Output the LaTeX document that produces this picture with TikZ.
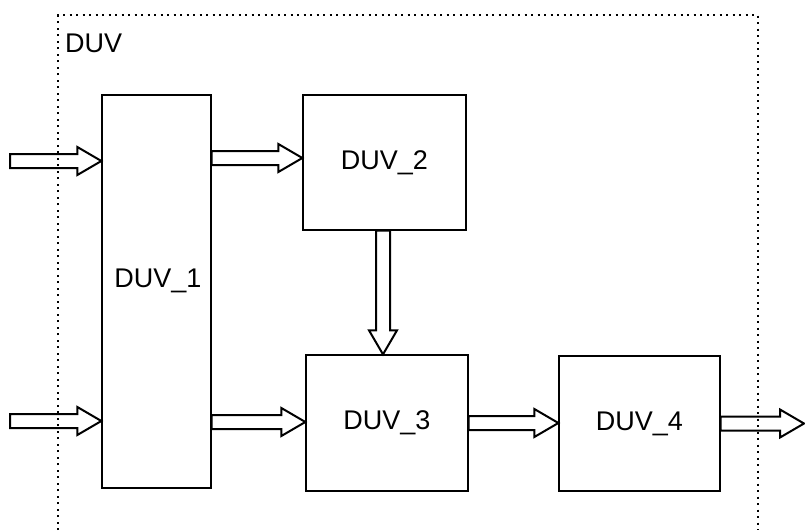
\documentclass[tikz,border=0pt]{standalone}
\usepackage{fontspec}
\setmainfont{Liberation Sans}
\usetikzlibrary{calc}
\newcommand{\duvfont}{\fontsize{27}{32}\selectfont}
\tikzset{
  block/.style={draw, line width=1.3pt, inner sep=0pt, font=\duvfont},
  label text/.style={inner sep=0pt, font=\duvfont},
  border/.style={line width=2pt, dash pattern=on 2pt off 4.5pt},
  % outlined block arrow from start to target
  bigarrow/.style={line width=2pt, to path={
    let \p1=(\tikztostart), \p2=(\tikztotarget),
        \n1={atan2(\y2-\y1,\x2-\x1)},
        \p3=($(\p2)+({\n1+180}:24pt)$) in
    ($(\p1)+({\n1+90}:7pt)$) -- ($(\p3)+({\n1+90}:7pt)$) -- ($(\p3)+({\n1+90}:14pt)$)
    -- (\p2) -- ($(\p3)+({\n1-90}:14pt)$) -- ($(\p3)+({\n1-90}:7pt)$)
    -- ($(\p1)+({\n1-90}:7pt)$) -- cycle}}
}
\begin{document}
\begin{tikzpicture}[x=1pt,y=-1pt]
    \useasboundingbox (0,0) rectangle (805,530);
    \draw[border] (58,530) -- (58,15) -- (758,15) -- (758,530);
    \node[label text, anchor=base west] (duv) at (65,52) {DUV};
    % blocks
    \node[block, minimum width=109pt, minimum height=393pt] (d1) at (156.5,291.5) {};
    \node[label text, anchor=base] (d1text) at (158,287) {DUV\_1};
    \node[block, minimum width=163pt, minimum height=135pt] (d2) at (384.5,162.5) {DUV\_2};
    \node[block, minimum width=162pt, minimum height=136pt] (d3) at (387,423) {DUV\_3};
    \node[block, minimum width=161pt, minimum height=135pt] (d4) at (639.5,423.5) {DUV\_4};
    % free ends
    \coordinate (in1) at (10,161);
    \coordinate (in2) at (10,421);
    \coordinate (out) at (804,423);
    % arrows
    \draw[bigarrow] (in1) to (in1 -| d1.west);
    \draw[bigarrow] (in2) to (in2 -| d1.west);
    \draw[bigarrow] (d1.east |- 0,158) to (d2.west |- 0,158);
    \draw[bigarrow] (d1.east |- 0,422) to (d3.west |- 0,422);
    \draw[bigarrow] (d2.south -| 383,0) to (d3.north -| 383,0);
    \draw[bigarrow] (d3.east) to (d3.east -| d4.west);
    \draw[bigarrow] (d4.east) to (d4.east -| out);
\end{tikzpicture}
\end{document}
